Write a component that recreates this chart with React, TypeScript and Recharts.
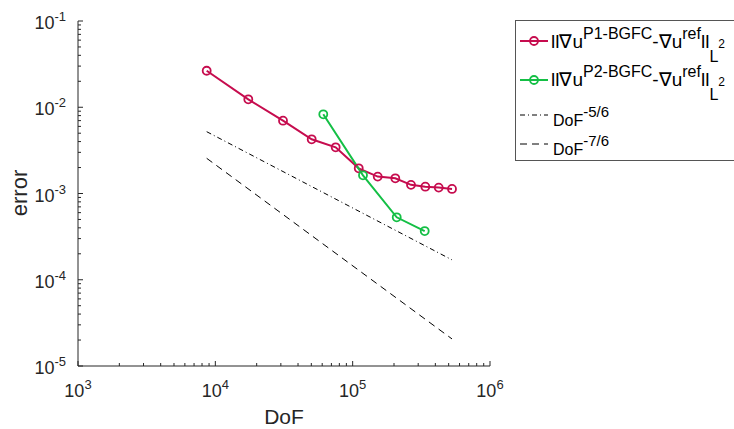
import { Legend, Line, LineChart, XAxis, YAxis } from "recharts"

const dofP1 = [8650, 17380, 31100, 50300, 75200, 110700, 152200, 204400, 265900, 338100, 423200, 528900]
const errP1 = [0.0265, 0.01236, 0.00698, 0.00425, 0.00343, 0.00196, 0.00157, 0.0015, 0.00126, 0.0012, 0.00117, 0.00113]
const dofP2 = [61100, 118900, 209300, 334600]
const errP2 = [0.00828, 0.001626, 0.00053, 0.000367]
const refDof = [8650, 528900]
const ref56 = [0.00521, 0.00017]
const ref76 = [0.00256, 0.0000206]

const xMajor = [1e3, 1e4, 1e5, 1e6]
const xExp = ["3", "4", "5", "6"]
const yMajor = [1e-5, 1e-4, 1e-3, 1e-2, 1e-1]
const yExp = ["-5", "-4", "-3", "-2", "-1"]
const minorSteps = [2, 3, 4, 5, 6, 7, 8, 9]

const RED = "#c60c4e"
const GREEN = "#14bf45"
const AXIS = "#262626"
const FONT = "'Liberation Sans', Arial, sans-serif"

const withMinor = (major: number[]) => {
  const out: number[] = []
  major.forEach((m, i) => {
    out.push(m)
    if (i < major.length - 1) minorSteps.forEach((k) => out.push(m * k))
  })
  return out
}
const xTicks = withMinor(xMajor)
const yTicks = withMinor(yMajor)

const pairs = (xs: number[], ys: number[]) => xs.map((x, i) => ({ dof: x, err: ys[i] }))
const p1Data = pairs(dofP1, errP1)
const p2Data = pairs(dofP2, errP2)
const ref56Data = pairs(refDof, ref56)
const ref76Data = pairs(refDof, ref76)

const XTick = ({ x, y, payload }: any) => {
  const i = xMajor.indexOf(payload.value)
  return (
    <g>
      <line x1={x} x2={x} y1={y} y2={y - (i >= 0 ? 5 : 3)} stroke={AXIS} />
      {i >= 0 && (
        <text x={x} y={y + 31} textAnchor="middle" fill={AXIS} fontFamily={FONT} fontSize={18}>
          <tspan>10</tspan>
          <tspan dy={-8} fontSize={13}>{xExp[i]}</tspan>
        </text>
      )}
    </g>
  )
}

const YTick = ({ x, y, payload }: any) => {
  const i = yMajor.indexOf(payload.value)
  return (
    <g>
      <line x1={x} x2={x + (i >= 0 ? 5 : 3)} y1={y} y2={y} stroke={AXIS} />
      {i >= 0 && (
        <text x={x - 12} y={y + 8} textAnchor="end" fill={AXIS} fontFamily={FONT} fontSize={18}>
          <tspan>10</tspan>
          <tspan dy={-8} fontSize={13}>{yExp[i]}</tspan>
        </text>
      )}
    </g>
  )
}

const NormLabel = ({ y, sup }: { y: number; sup: string }) => (
  <text x={36} y={y} fill="#000" fontFamily={FONT} fontSize={19}>
    <tspan>ll∇u</tspan>
    <tspan dy={-9} fontSize={16}>{sup}</tspan>
    <tspan dy={9}>-∇u</tspan>
    <tspan dy={-9} fontSize={16}>ref</tspan>
    <tspan dy={9}>ll</tspan>
    <tspan dy={14} fontSize={16}>L</tspan>
    <tspan dy={-14} fontSize={12}>2</tspan>
  </text>
)

const DofLabel = ({ y, sup }: { y: number; sup: string }) => (
  <text x={38} y={y} fill="#000" fontFamily={FONT} fontSize={16}>
    <tspan>DoF</tspan>
    <tspan dy={-9} fontSize={15}>{sup}</tspan>
  </text>
)

const LegendBox = () => (
  <svg width={219} height={142} style={{ display: "block" }}>
    <rect x={0.5} y={0.5} width={260} height={140} fill="#fff" stroke="#555" />
    <line x1={5} x2={33} y1={21} y2={21} stroke={RED} strokeWidth={2} />
    <circle cx={19} cy={21} r={4} fill="none" stroke={RED} strokeWidth={1.8} />
    <NormLabel y={27.5} sup="P1-BGFC" />
    <line x1={5} x2={33} y1={60} y2={60} stroke={GREEN} strokeWidth={2} />
    <circle cx={19} cy={60} r={4} fill="none" stroke={GREEN} strokeWidth={1.8} />
    <NormLabel y={65.5} sup="P2-BGFC" />
    <line x1={5} x2={33} y1={95} y2={95} stroke="#000" strokeDasharray="5 3 1 3" />
    <DofLabel y={106} sup="-5/6" />
    <line x1={5} x2={33} y1={124} y2={124} stroke="#000" strokeDasharray="7 5" />
    <DofLabel y={135} sup="-7/6" />
  </svg>
)

export default function App() {
  return (
    <div style={{ position: "absolute", left: 0, top: 0, width: 734, height: 429, overflow: "hidden", background: "#fff" }}>
      <LineChart width={734} height={429} margin={{ top: 21, right: 244, bottom: 0, left: 8 }}>
        <XAxis
          dataKey="dof"
          type="number"
          scale="log"
          domain={[1e3, 1e6]}
          allowDataOverflow
          ticks={xTicks}
          interval={0}
          height={63}
          tickSize={0}
          tickMargin={0}
          tick={<XTick />}
          axisLine={{ stroke: AXIS }}
          tickLine={false}
          label={(p: any) => (
            <text x={p.viewBox.x + p.viewBox.width / 2} y={424} textAnchor="middle" fill={AXIS} fontFamily={FONT} fontSize={21}>
              DoF
            </text>
          )}
        />
        <YAxis
          dataKey="err"
          type="number"
          scale="log"
          domain={[1e-5, 1e-1]}
          allowDataOverflow
          ticks={yTicks}
          interval={0}
          width={70}
          tickSize={0}
          tickMargin={0}
          tick={<YTick />}
          axisLine={{ stroke: AXIS }}
          tickLine={false}
          label={() => (
            <text x={27} y={193} transform="rotate(-90, 27, 193)" textAnchor="middle" fill={AXIS} fontFamily={FONT} fontSize={22}>
              error
            </text>
          )}
        />
        <Legend
          layout="vertical"
          align="center"
          verticalAlign="middle"
          content={<LegendBox />}
          wrapperStyle={{ left: 515, top: 20, width: 219, height: 142 }}
        />
        <Line data={p1Data} dataKey="err" stroke={RED} strokeWidth={2} dot={{ r: 4, stroke: RED, strokeWidth: 1.8, fill: "none" }} isAnimationActive={false} />
        <Line data={p2Data} dataKey="err" stroke={GREEN} strokeWidth={2} dot={{ r: 4, stroke: GREEN, strokeWidth: 1.8, fill: "none" }} isAnimationActive={false} />
        <Line data={ref56Data} dataKey="err" stroke="#000" strokeWidth={1} strokeDasharray="5 3 1 3" dot={false} isAnimationActive={false} />
        <Line data={ref76Data} dataKey="err" stroke="#000" strokeWidth={1} strokeDasharray="7 5" dot={false} isAnimationActive={false} />
      </LineChart>
    </div>
  )
}
